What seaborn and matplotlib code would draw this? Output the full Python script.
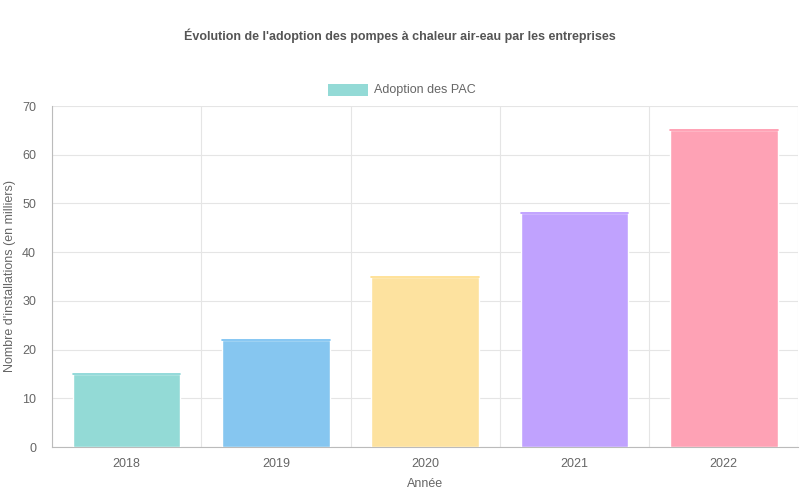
import matplotlib
matplotlib.use("Agg")
import matplotlib.pyplot as plt
import seaborn as sns
import pandas as pd

years = ["2018", "2019", "2020", "2021", "2022"]
values = [15, 22, 35, 48, 65]
fills = ["#93DAD6", "#86C6F0", "#FDE29F", "#C0A2FE", "#FEA2B5"]
edges = ["#4BC0C0", "#36A2EB", "#FFCE56", "#9966FF", "#FF6384"]

sns.set_style("white")
plt.rcParams['font.family'] = ['Liberation Sans', 'DejaVu Sans']

df = pd.DataFrame({"Année": years, "v": values})
fig = plt.figure(figsize=(8, 5), dpi=100)
ax = fig.add_axes([0.065, 0.106, 0.933, 0.682])
sns.barplot(data=df, x="Année", y="v", hue="Année", palette=fills, legend=False,
            width=0.72, saturation=1, ax=ax, zorder=3)
for p, e in zip(ax.patches, edges):
    x, w, h = p.get_x(), p.get_width(), p.get_height()
    ax.plot([x, x + w], [h, h], color=e, lw=1.2, alpha=0.7, zorder=4)

ax.set_ylim(0, 70)
ax.set_xlim(-0.5, 4.5)
ax.set_yticks(range(0, 71, 10))
ax.set_xticks([i - 0.5 for i in range(6)], minor=True)
ax.grid(True, axis="y", color="#E5E5E5", lw=0.8, zorder=0)
ax.grid(True, axis="x", which="minor", color="#E5E5E5", lw=0.8, zorder=0)
ax.tick_params(axis="x", which="major", length=0, labelsize=9, colors="#666666", pad=8)
ax.tick_params(axis="x", which="minor", length=8, color="#DDDDDD")
ax.tick_params(axis="y", length=8, color="#DDDDDD", labelsize=9, labelcolor="#666666")
for s in ["top", "right"]:
    ax.spines[s].set_visible(False)
for s in ["left", "bottom"]:
    ax.spines[s].set_color("#BBBBBB")
ax.set_xlabel("Année", fontsize=9, color="#666666", labelpad=6)
ax.set_ylabel("Nombre d'installations (en milliers)", fontsize=9, color="#666666")

fig.text(0.5, 0.928, "Évolution de l'adoption des pompes à chaleur air-eau par les entreprises",
         ha="center", va="center", fontsize=9, fontweight="bold", color="#555555")
fig.patches.append(plt.Rectangle((0.41, 0.808), 0.05, 0.024, transform=fig.transFigure,
                                 facecolor=fills[0], edgecolor="none"))
fig.text(0.467, 0.82, "Adoption des PAC", ha="left", va="center", fontsize=9, color="#666666")

fig.savefig("out.png", dpi=100)
